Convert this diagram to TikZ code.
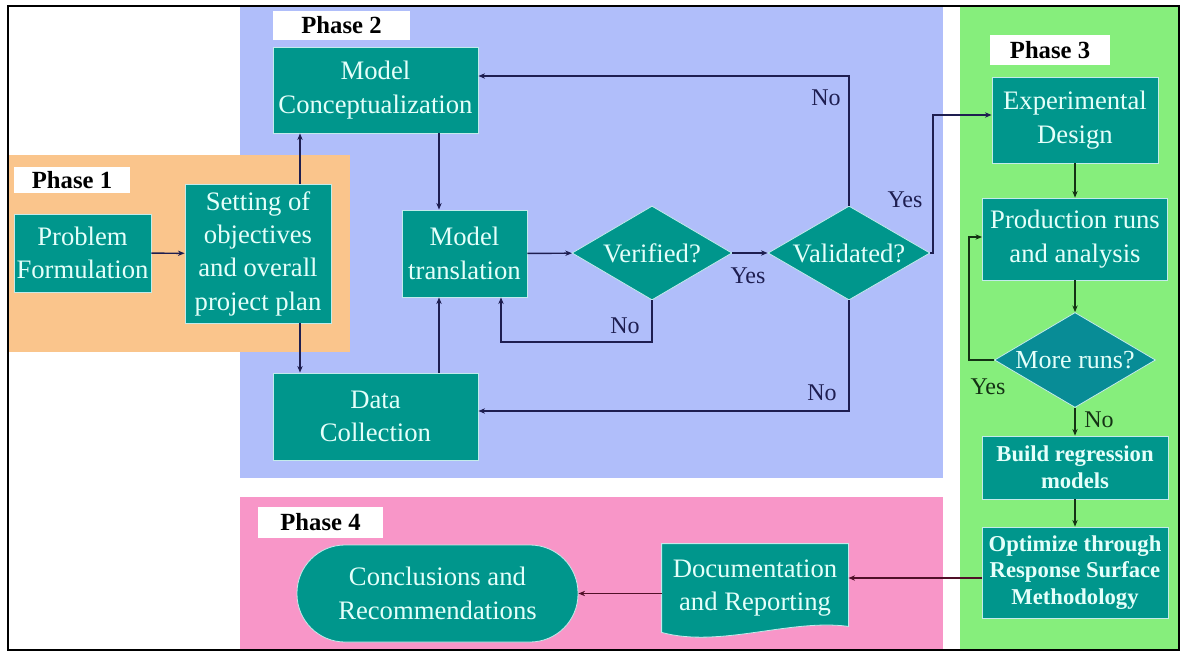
\documentclass[tikz,border=0pt]{standalone}
\usepackage{fontspec}
\setmainfont{Liberation Serif}
\usetikzlibrary{shapes.geometric,arrows.meta}
\pgfdeclarelayer{regions}
\pgfdeclarelayer{shapes}
\pgfsetlayers{regions,shapes,main}

\definecolor{phaseA}{RGB}{250,197,140}
\definecolor{phaseB}{RGB}{176,190,250}
\definecolor{phaseC}{RGB}{134,238,124}
\definecolor{phaseD}{RGB}{248,150,200}
\definecolor{boxfill}{RGB}{0,150,140}
\definecolor{mrfill}{RGB}{8,140,150}
\definecolor{boxtext}{RGB}{228,255,250}
\definecolor{boxedge}{RGB}{195,235,235}
\definecolor{linkB}{RGB}{30,30,80}
\definecolor{linkC}{RGB}{20,50,20}
\definecolor{linkD}{RGB}{80,16,40}

\tikzset{
  box/.style={rectangle, fill=boxfill, draw=boxedge, line width=0.6pt,
    text=boxtext, align=center, inner sep=1pt,
    font=\fontsize{20}{25}\selectfont},
  boldbox/.style={box, font=\fontsize{17}{20}\selectfont\bfseries},
  decision/.style={diamond, aspect=1.7, fill=boxfill, draw=boxedge,
    line width=0.6pt, text=boxtext, inner sep=0pt,
    font=\fontsize{20}{25}\selectfont},
  phase/.style={rectangle, fill=white, text=black, inner sep=0pt,
    font=\fontsize{18.5}{22}\selectfont\bfseries},
  link/.style={draw=linkB, line width=1.1pt, -{Stealth[length=5pt,width=4pt]}},
  greenlink/.style={link, draw=linkC},
  pinklink/.style={link, draw=linkD},
  tag/.style={font=\fontsize{18}{22}\selectfont, text=linkB, inner sep=0pt},
}

\begin{document}
\begin{tikzpicture}[x=0.75pt,y=-0.75pt]
\useasboundingbox (0,0) rectangle (1181,652);

% phase backgrounds
\begin{pgfonlayer}{regions}
  \fill[white] (0,0) rectangle (1181,652);
  \fill[phaseB] (240,6) rectangle (943,478);
  \fill[phaseD] (240,497) rectangle (943,650);
  \fill[phaseC] (960,6) rectangle (1179,650);
  \fill[phaseA] (8,155) rectangle (350,352);
\end{pgfonlayer}
\draw[line width=1.5pt] (8,6) rectangle (1179,650);

% phase titles
\node[phase, minimum width=87pt, minimum height=19.5pt] (p1) at (72,180) {Phase 1};
\node[phase, minimum width=102.75pt, minimum height=21.75pt] (p2) at (341.5,25.5) {Phase 2};
\node[phase, minimum width=90pt, minimum height=22.5pt] (p3) at (1050,50) {Phase 3};
\node[phase, minimum width=93.75pt, minimum height=23.25pt] (p4) at (320.5,522.5) {Phase 4};

% phase 1
\node[box, minimum width=102.75pt, minimum height=58.5pt] (pf) at (82.5,253) {Problem\\Formulation};
\node[box, minimum width=109.5pt, minimum height=104.25pt] (set) at (258,253.5)
  {Setting of\\objectives\\and overall\\project plan};

% phase 2
\node[box, minimum width=153.75pt, minimum height=64.5pt] (mc) at (375.5,90) {Model\\Conceptualization};
\node[box, minimum width=93.75pt, minimum height=65.25pt] (mt) at (464.5,253.5) {Model\\translation};
\node[box, minimum width=153.75pt, minimum height=65.25pt] (dc) at (375.5,416.5) {Data\\Collection};
\node[decision, minimum width=120pt, minimum height=70.5pt] (ver) at (652,253) {Verified?};
\node[decision, minimum width=121.5pt, minimum height=70.5pt] (val) at (849,253) {Validated?};

% phase 3
\node[box, minimum width=124.5pt, minimum height=64.5pt] (ed) at (1075,120) {Experimental\\Design};
\node[box, minimum width=138.75pt, minimum height=61.5pt] (pra) at (1075,239) {Production runs\\and analysis};
\node[decision, fill=mrfill, minimum width=120.75pt, minimum height=71.25pt,
  font=\fontsize{19.5}{24}\selectfont] (mr) at (1075,360) {More runs?};
\node[boldbox, minimum width=139.5pt, minimum height=47.25pt] (brm) at (1075,467.5) {Build regression\\models};
\node[boldbox, minimum width=139.5pt, minimum height=68.25pt] (ors) at (1075,572.5)
  {Optimize through\\Response Surface\\Methodology};

% phase 4: document shape with a wavy lower edge behind its text
\node[box, draw=none, fill=none, minimum width=139.5pt, minimum height=61.5pt,
  text depth=-3pt] (doc) at (755,585) {Documentation\\and Reporting};
\begin{pgfonlayer}{shapes}
  \filldraw[fill=boxfill, draw=boxedge, line width=0.6pt]
    (doc.north west) -- (doc.north east) -- (doc.south east)
    .. controls +(-58,-8) and +(58,16) .. ([yshift=-4.5pt]doc.south west) -- cycle;
\end{pgfonlayer}
\node[box, rounded corners=36pt, minimum width=210.75pt, minimum height=72.75pt] (con) at (437.5,593.5)
  {Conclusions and\\Recommendations};

% routing guides
\coordinate (ca) at (300,0);
\coordinate (cb) at (439,0);
\coordinate (lp) at (501,342);
\coordinate (ty) at (0,76);
\coordinate (by) at (0,411);
\coordinate (rx) at (933,0);
\coordinate (ey) at (0,115);
\coordinate (lx) at (969,0);
\coordinate (py) at (0,237);
\coordinate (dy) at (0,578);

% phase 1 and 2 flow
\draw[link] (pf) -- (set);
\draw[link] (set.north -| ca) -- (mc.south -| ca);
\draw[link] (set.south -| ca) -- (dc.north -| ca);
\draw[link] (mc.south -| cb) -- (mt.north -| cb);
\draw[link] (dc.north -| cb) -- (mt.south -| cb);
\draw[link] (mt) -- (ver);
\draw[link] (ver) -- (val);
\draw[link] (ver.south) |- (lp) -- (mt.south -| lp);
\draw[link] (val.north) |- (mc.east |- ty);
\draw[link] (val.south) |- (dc.east |- by);
\draw[link] (val.east) -- (val.east -| rx) |- (ed.west |- ey);

\node[tag] (tyes1) at (748,276) {Yes};
\node[tag] (tno1) at (625,326) {No};
\node[tag] (tno2) at (826,98) {No};
\node[tag] (tno3) at (822,393) {No};
\node[tag] (tyes2) at (905,200) {Yes};

% phase 3 flow
\draw[greenlink] (ed) -- (pra);
\draw[greenlink] (pra) -- (mr);
\draw[greenlink] (mr) -- (brm);
\draw[greenlink] (brm) -- (ors);
\draw[greenlink] (mr.west) -- (mr.west -| lx) |- (pra.west |- py);
\node[tag, text=linkC] (tyes3) at (988,387) {Yes};
\node[tag, text=linkC] (tno4) at (1099,420) {No};

% phase 4 flow
\draw[pinklink] (ors.west |- dy) -- (doc.east |- dy);
\draw[pinklink] (doc.west |- con.east) -- (con.east);

\end{tikzpicture}
\end{document}
